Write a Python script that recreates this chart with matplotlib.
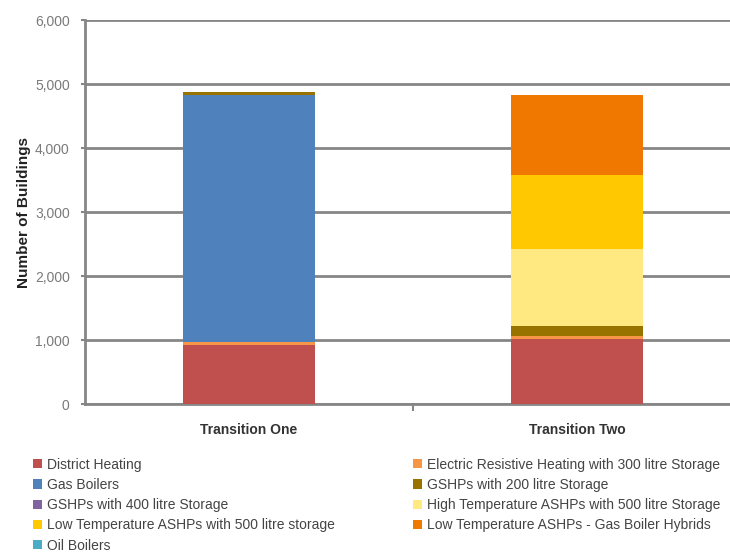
import matplotlib.pyplot as plt
from matplotlib.patches import Patch

# categories and stacked series (number of buildings)
categories = ["Transition One", "Transition Two"]
series_names = [
    "District Heating",
    "Electric Resistive Heating with 300 litre Storage",
    "Gas Boilers",
    "GSHPs with 200 litre Storage",
    "GSHPs with 400 litre Storage",
    "High Temperature ASHPs with 500 litre Storage",
    "Low Temperature ASHPs with 500 litre storage",
    "Low Temperature ASHPs - Gas Boiler Hybrids",
    "Oil Boilers",
]
district = [925, 1020]
electric = [50, 47]
gas = [3855, 0]
gshp200 = [50, 156]
gshp400 = [0, 0]
high_ashp = [0, 1204]
low_ashp = [0, 1156]
hybrids = [0, 1250]
oil = [0, 0]
yticks = [0, 1000, 2000, 3000, 4000, 5000, 6000]

values = [district, electric, gas, gshp200, gshp400, high_ashp, low_ashp, hybrids, oil]
colors = ["#C0504D", "#F79646", "#4F81BD", "#997300", "#8064A2",
          "#FFE980", "#FFC800", "#F07800", "#4BACC6"]

plt.rcParams['font.family'] = ['Liberation Sans', 'DejaVu Sans']

fig = plt.figure(figsize=(7.3, 5.53), dpi=100)
ax = fig.add_axes([85 / 730, 149 / 553, 656 / 730, 384 / 553])

grid_c = "#868686"
x = list(range(len(categories)))
bottom = [0] * len(categories)
for vals, c in zip(values, colors):
    ax.bar(x, vals, width=0.40, bottom=bottom, color=c, zorder=3)
    bottom = [b + v for b, v in zip(bottom, vals)]

ax.set_xlim(-0.5, 1.5)
ax.set_ylim(0, 6000)
ax.set_yticks(yticks)
ax.set_yticklabels([f"{v:,}" for v in yticks], color="#7a7a7a", fontsize=10)
ax.yaxis.grid(True, color=grid_c, lw=2, zorder=0)
ax.tick_params(axis='y', length=3, width=1.5, color=grid_c, pad=8)

ax.set_xticks(x)
ax.set_xticklabels(categories, fontsize=10, fontweight='bold', color="#333333")
ax.tick_params(axis='x', which='major', length=0, pad=14)
ax.set_xticks([0.5], minor=True)
ax.tick_params(axis='x', which='minor', length=5, width=1.5, color=grid_c)

for s in ['top', 'right']:
    ax.spines[s].set_visible(False)
for s in ['left', 'bottom']:
    ax.spines[s].set_color(grid_c)
    ax.spines[s].set_linewidth(2)

ax.set_ylabel("Number of Buildings", fontsize=11, fontweight='bold',
              color="#222222", labelpad=3)

# legend laid out row-wise in two columns
handles = [Patch(facecolor=c) for c in colors]
col1 = [0, 2, 4, 6, 8]
col2 = [1, 3, 5, 7]
leg_kw = dict(frameon=False, fontsize=10, handlelength=0.65, handleheight=0.65,
              handletextpad=0.4, labelspacing=0.45, borderaxespad=0, loc='upper left')
top = 1 - 452 / 553
leg1 = fig.legend([handles[i] for i in col1], [series_names[i] for i in col1],
                  bbox_to_anchor=(27 / 730, top), **leg_kw)
for t in leg1.get_texts():
    t.set_color("#444444")
leg2 = fig.legend([handles[i] for i in col2], [series_names[i] for i in col2],
                  bbox_to_anchor=(407 / 730, top), **leg_kw)
for t in leg2.get_texts():
    t.set_color("#444444")

fig.savefig("out.png", dpi=100)
